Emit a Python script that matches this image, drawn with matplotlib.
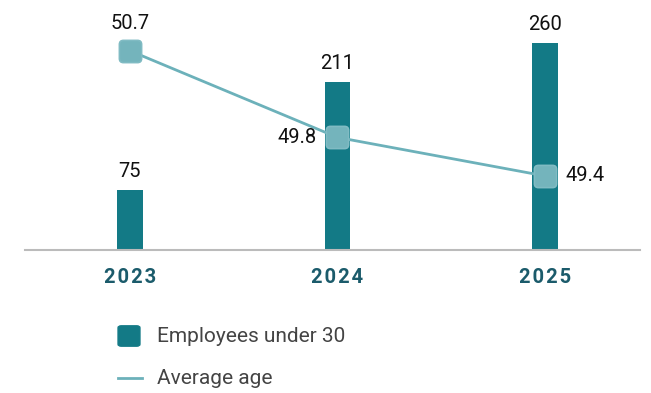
import numpy as np
from matplotlib import pyplot as plt
from matplotlib.patches import FancyBboxPatch
from matplotlib.lines import Line2D

plt.rcParams['font.family'] = ['Roboto', 'DejaVu Sans']

years = ['2023', '2024', '2025']
employees_under_30 = [75, 211, 260]
average_age = [50.7, 49.8, 49.4]

bar_color = '#137a86'
line_color = '#6cb1ba'
tick_color = '#1b5b6b'

W, H = 651, 393
fig = plt.figure(figsize=(W / 100, H / 100), dpi=100)
ax = fig.add_axes([25 / W, (H - 250) / H, (640 - 25) / W, 230 / H])

x = np.arange(len(years))
ax.bar(x, employees_under_30, width=0.125, color=bar_color, zorder=2)
ax.set_xlim(-0.506, 2.458)
ax.set_ylim(0, 289)
ax.set_xticks(x)
# a little letter spacing, like the original
ax.set_xticklabels(['\u200a'.join(y) for y in years], fontsize=14.5, fontweight='bold',
                   color=tick_color)
ax.tick_params(axis='x', length=0, pad=13)
ax.set_yticks([])
for s in ['top', 'right', 'left']:
    ax.spines[s].set_visible(False)
ax.spines['bottom'].set_color('#bbbbbb')
ax.spines['bottom'].set_linewidth(1.5)

for xi, v in zip(x, employees_under_30):
    ax.annotate(str(v), (xi, v), xytext=(0, 6.5), textcoords='offset points',
                ha='center', va='bottom', fontsize=14.5, color='#111111')

# rounded square marker
rsq = FancyBboxPatch((-0.5, -0.5), 1, 1, boxstyle='round,pad=0,rounding_size=0.18').get_path()

ax2 = ax.twinx()
ax2.set_ylim(48.63, 51.02)
ax2.plot(x, average_age, color=line_color, lw=2, zorder=3)
ax2.plot(x, average_age, ls='none', marker=rsq, markersize=16,
         markerfacecolor='#74b4bc', markeredgecolor='#80bbc3', markeredgewidth=1.2,
         zorder=4)
ax2.axis('off')

offsets = [(0, 13, 'center', 'bottom'), (-15, 0, 'right', 'center'), (15, 0, 'left', 'center')]
for xi, v, (dx, dy, ha, va) in zip(x, average_age, offsets):
    ax2.annotate(f'{v:.1f}', (xi, v), xytext=(dx, dy), textcoords='offset points',
                 ha=ha, va=va, fontsize=14.5, color='#111111')

# legend drawn by hand in pixel coordinates
def fx(px):
    return px / W

def fy(py):
    return 1 - py / H

fig.patches.append(FancyBboxPatch((fx(120), fy(345)), fx(138) - fx(120), fy(327) - fy(345),
                                  boxstyle='round,pad=0.003,rounding_size=0.005',
                                  transform=fig.transFigure, facecolor=bar_color,
                                  edgecolor=bar_color, lw=1))
fig.text(fx(157), fy(337), 'Employees under 30', fontsize=15, color='#444444',
         va='center', ha='left')
fig.lines.append(Line2D([fx(118), fx(142)], [fy(378), fy(378)], color=line_color, lw=2,
                        transform=fig.transFigure))
fig.text(fx(157), fy(379), 'Average age', fontsize=15, color='#444444',
         va='center', ha='left')

fig.savefig('out.png', dpi=100)
